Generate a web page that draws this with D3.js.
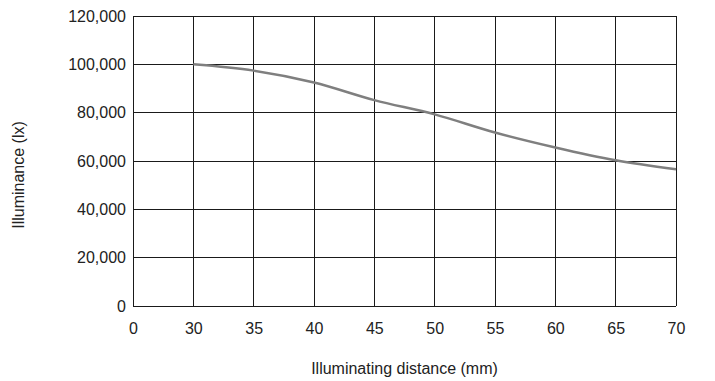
<!DOCTYPE html>
<html>
<head>
<meta charset="utf-8">
<script src="https://cdn.jsdelivr.net/npm/d3@7"></script>
<style>
  html, body { margin: 0; padding: 0; background: #fff; }
  svg { display: block; font-family: "Liberation Sans", Arial, sans-serif; }
</style>
</head>
<body>
<svg id="chart" width="715" height="381"></svg>
<script>
const xLabels = ["0", "30", "35", "40", "45", "50", "55", "60", "65", "70"];
const distances = ["30", "35", "40", "45", "50", "55", "60", "65", "70"];
const illuminance = [100000, 97400, 92500, 85200, 79300, 71800, 65600, 60300, 56600];
const yTicks = [0, 20000, 40000, 60000, 80000, 100000, 120000];

(function () {
const svg = d3.select("#chart");
const mLeft = 133, mRight = 676, mTop = 16, mBottom = 306;
const txt = "#222222";

const x = d3.scalePoint().domain(xLabels).range([mLeft, mRight]);
const y = d3.scaleLinear().domain([0, 120000]).range([mBottom, mTop]);

// grid
svg.append("g").selectAll("line").data(xLabels).join("line")
  .attr("x1", d => x(d)).attr("x2", d => x(d))
  .attr("y1", mTop).attr("y2", mBottom)
  .attr("stroke", "#1a1a1a").attr("stroke-width", 1).attr("shape-rendering", "crispEdges");
svg.append("g").selectAll("line").data(yTicks).join("line")
  .attr("x1", mLeft).attr("x2", mRight)
  .attr("y1", d => y(d)).attr("y2", d => y(d))
  .attr("stroke", "#1a1a1a").attr("stroke-width", 1).attr("shape-rendering", "crispEdges");

// axes
const fmt = d3.format(",");
const yAxis = svg.append("g").attr("transform", `translate(${mLeft},0)`)
  .call(d3.axisLeft(y).tickValues(yTicks).tickFormat(fmt).tickSize(0).tickPadding(7));
yAxis.select(".domain").remove();
yAxis.selectAll("text").attr("font-size", 16).attr("fill", txt)
  .attr("font-family", "'Liberation Sans', Arial, sans-serif");

const xAxis = svg.append("g").attr("transform", `translate(0,${mBottom})`)
  .call(d3.axisBottom(x).tickSize(0).tickPadding(17));
xAxis.select(".domain").remove();
xAxis.selectAll("text").attr("font-size", 16).attr("fill", txt)
  .attr("font-family", "'Liberation Sans', Arial, sans-serif");

// line
const line = d3.line()
  .x((d, i) => x(distances[i]))
  .y(d => y(d))
  .curve(d3.curveMonotoneX);
svg.append("path").datum(illuminance)
  .attr("d", line)
  .attr("fill", "none")
  .attr("stroke", "#7f7f7f")
  .attr("stroke-width", 2.5);

// titles
svg.append("text")
  .attr("x", (mLeft + mRight) / 2).attr("y", 374)
  .attr("text-anchor", "middle").attr("font-size", 16).attr("fill", txt)
  .text("Illuminating distance (mm)");
svg.append("text")
  .attr("transform", "translate(24,175) rotate(-90)")
  .attr("text-anchor", "middle").attr("font-size", 16).attr("fill", txt)
  .text("Illuminance (lx)");
})();
</script>
</body>
</html>
